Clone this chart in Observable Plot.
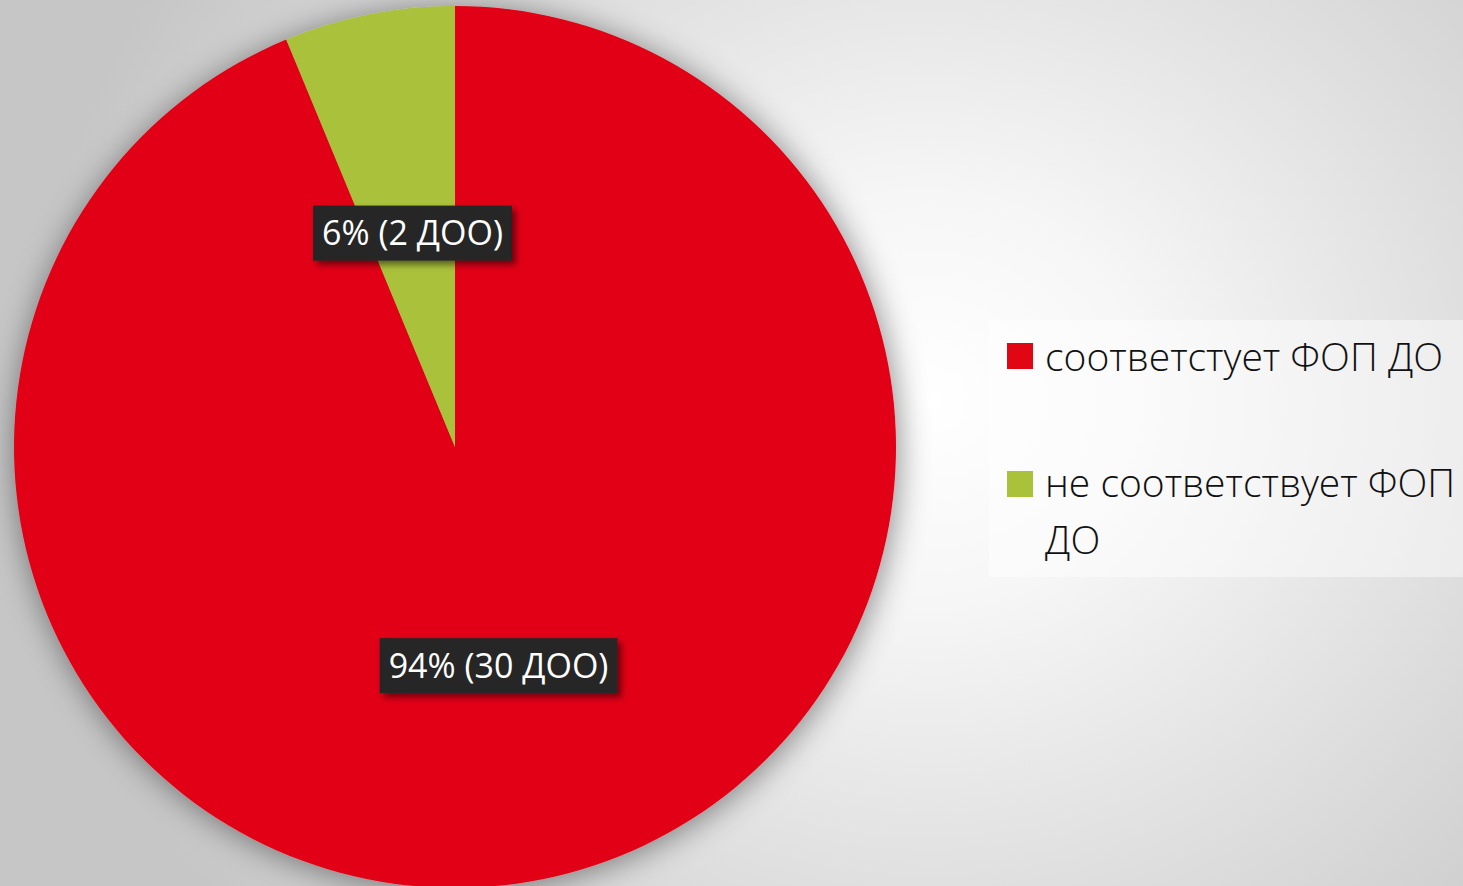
<!DOCTYPE html>
<html>
<head>
<meta charset="utf-8">
<script src="https://cdn.jsdelivr.net/npm/d3@7"></script>
<script src="https://cdn.jsdelivr.net/npm/@observablehq/plot@0.6"></script>
<style>
  html, body { margin: 0; padding: 0; }
  body {
    width: 1463px; height: 886px; overflow: hidden; position: relative;
    background: radial-gradient(ellipse 900px 820px at 930px 400px, #ffffff 0%, #f6f6f6 25%, #dcdcdc 65%, #c6c6c6 100%);
    font-family: "Open Sans", "Noto Sans", sans-serif;
  }
  #chart { position: absolute; left: 0; top: 0; }
  #legend {
    position: absolute; left: 989px; top: 320px; width: 474px; height: 257px;
    background: rgba(255,255,255,0.45);
  }
  .sw { position: absolute; width: 26px; height: 26px; }
  .lt { position: absolute; font-size: 39px; font-weight: 300; line-height: 57px; color: #111; white-space: nowrap; }
</style>
</head>
<body>
<div id="chart"></div>
<div id="legend"></div>
<script>
// ---- data ----
const categories = ["соответстует ФОП ДО", "не соответствует ФОП ДО"];
const counts = [30, 2];
const percents = [94, 6];
const labels = ["94% (30 ДОО)", "6% (2 ДОО)"];
const colors = ["#E10613", "#AAC13A"];

const data = categories.map((c, i) => ({category: c, count: counts[i], percent: percents[i], label: labels[i]}));
const arcs = d3.pie().sort(null).value(d => d.count)(data);
arcs.forEach(a => {
  const mid = (a.startAngle + a.endAngle) / 2;
  a.data.lx = 0.5 * Math.sin(mid);
  a.data.ly = 0.5 * Math.cos(mid);
});

const color = Plot.scale({color: {type: "ordinal", domain: categories, range: colors}});

function pieMark(index, scales) {
  const cx = scales.x(0), cy = scales.y(0), r = scales.x(1) - scales.x(0);
  const g = d3.create("svg:g").attr("transform", `translate(${cx},${cy})`).attr("filter", "url(#pieShadow)");
  const arc = d3.arc().innerRadius(0).outerRadius(r);
  g.selectAll("path").data(arcs).join("path")
    .attr("d", arc)
    .attr("fill", d => color.apply(d.data.category));
  return g.node();
}

const plot = Plot.plot({
  width: 1463,
  height: 886,
  style: {background: "transparent", overflow: "visible"},
  x: {domain: [-1, 1], range: [14, 896], axis: null},
  y: {domain: [-1, 1], range: [888, 6], axis: null},
  marks: [
    pieMark,
    Plot.text(data, {
      x: "lx", y: "ly", text: "label", dy: 3,
      fill: "white", fontSize: 34, fontFamily: "Open Sans, Noto Sans, sans-serif",
      fontWeight: 400, className: "slice-label"
    })
  ]
});

const defs = d3.select(plot).insert("defs", ":first-child");
const f = defs.append("filter").attr("id", "pieShadow").attr("x", "-20%").attr("y", "-20%").attr("width", "140%").attr("height", "140%");
f.append("feDropShadow").attr("dx", 2).attr("dy", 3).attr("stdDeviation", 16).attr("flood-color", "#000").attr("flood-opacity", 0.45);
const f2 = defs.append("filter").attr("id", "boxShadow").attr("x", "-20%").attr("y", "-30%").attr("width", "140%").attr("height", "160%");
f2.append("feDropShadow").attr("dx", 4).attr("dy", 4).attr("stdDeviation", 3).attr("flood-color", "#000").attr("flood-opacity", 0.5);

document.getElementById("chart").appendChild(plot);

// label boxes behind texts
d3.select(plot).selectAll("g.slice-label text").each(function() {
  const bb = this.getBBox();
  const padX = 9, h = 55;
  const cy = bb.y + bb.height / 2 + 1;
  d3.select(this.parentNode).insert("rect", () => this)
    .attr("transform", this.getAttribute("transform"))
    .attr("x", bb.x - padX).attr("y", cy - h / 2)
    .attr("width", bb.width + 2 * padX).attr("height", h)
    .attr("fill", "#262626").attr("filter", "url(#boxShadow)");
});

// legend
const legend = d3.select("#legend");
const swatchTops = [23, 151];
const textTops = [7, 133];
const legendLines = [["соответстует ФОП ДО"], ["не соответствует ФОП", "ДО"]];
categories.forEach((c, i) => {
  legend.append("div").attr("class", "sw")
    .style("left", "18px").style("top", swatchTops[i] + "px")
    .style("background", color.apply(c));
  legend.append("div").attr("class", "lt")
    .style("left", "56px").style("top", textTops[i] + "px")
    .html(legendLines[i].join("<br>"));
});
</script>
</body>
</html>
